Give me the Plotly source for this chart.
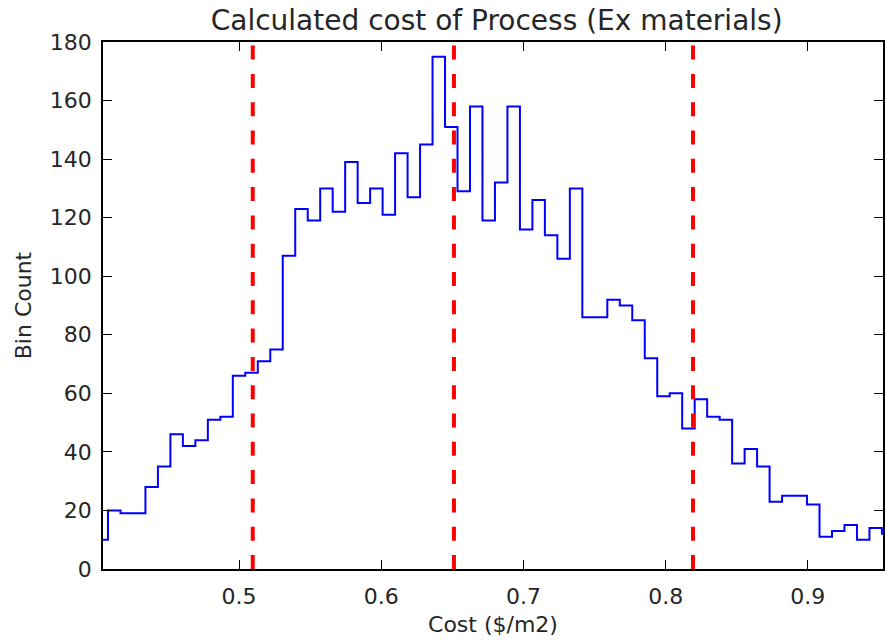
import plotly.graph_objects as go

# ---- data ----
bin_start = 0.39901          # left edge of first (partly visible) bin
bin_width = 0.008779
counts = [10, 20, 19, 19, 28, 35, 46, 42, 44, 51, 52, 66, 67, 71, 75,
          107, 123, 119, 130, 122, 139, 125, 130, 121, 142, 127, 145, 175,
          151, 129, 158, 119, 132, 158, 116, 126, 114, 106, 130, 86, 86,
          92, 90, 85, 72, 59, 60, 48, 58, 52, 51, 36, 41, 35, 23, 25, 25,
          22, 11, 13, 15, 10, 14, 12]
marker_lines = [0.5096, 0.6511, 0.8192]
x_range = [0.40428, 0.95284]
y_range = [0, 180]
x_ticks = [0.5, 0.6, 0.7, 0.8, 0.9]
y_ticks = [0, 20, 40, 60, 80, 100, 120, 140, 160, 180]

edges = [bin_start + i * bin_width for i in range(len(counts) + 1)]
xs = [edges[0]] + edges[:-1] + [edges[-1], edges[-1]]
ys = [0] + counts + [counts[-1], 0]

FONT = "DejaVu Sans"

fig = go.Figure()
fig.add_trace(go.Scatter(x=xs, y=ys, mode="lines", line_shape="hv",
                         line=dict(color="#0000ff", width=2),
                         hoverinfo="skip", showlegend=False))

for v in marker_lines:
    fig.add_shape(type="line", xref="x", yref="y", x0=v, x1=v,
                  y0=y_range[0], y1=y_range[1],
                  line=dict(color="#ff0000", width=4, dash="14px,14.3px"),
                  layer="above")

axis_common = dict(showgrid=False, zeroline=False, showline=True,
                   linecolor="black", linewidth=1.5, mirror="allticks",
                   ticks="inside", ticklen=9, tickwidth=1, tickcolor="black",
                   tickfont=dict(family=FONT, size=22, color="#262626"))

fig.update_xaxes(range=x_range, tickvals=x_ticks,
                 ticktext=[f"{t:g}" for t in x_ticks],
                 title=dict(text="Cost ($/m2)", standoff=8,
                            font=dict(family=FONT, size=22, color="#262626")),
                 ticklabelstandoff=7,
                 **axis_common)
fig.update_yaxes(range=y_range, tickvals=y_ticks,
                 title=dict(text="Bin Count", standoff=12,
                            font=dict(family=FONT, size=22, color="#262626")),
                 ticklabelstandoff=5,
                 **axis_common)

fig.update_layout(
    width=886, height=640,
    margin=dict(l=103, r=1, t=42, b=71),
    plot_bgcolor="white", paper_bgcolor="white",
    title=dict(text="Calculated cost of Process (Ex materials)",
               x=(103 + 885) / 2 / 886 + 0.003, xanchor="center",
               y=1 - 20 / 640, yanchor="middle", yref="container",
               font=dict(family=FONT, size=28, color="#262626")),
)

fig.write_html("out.html")
